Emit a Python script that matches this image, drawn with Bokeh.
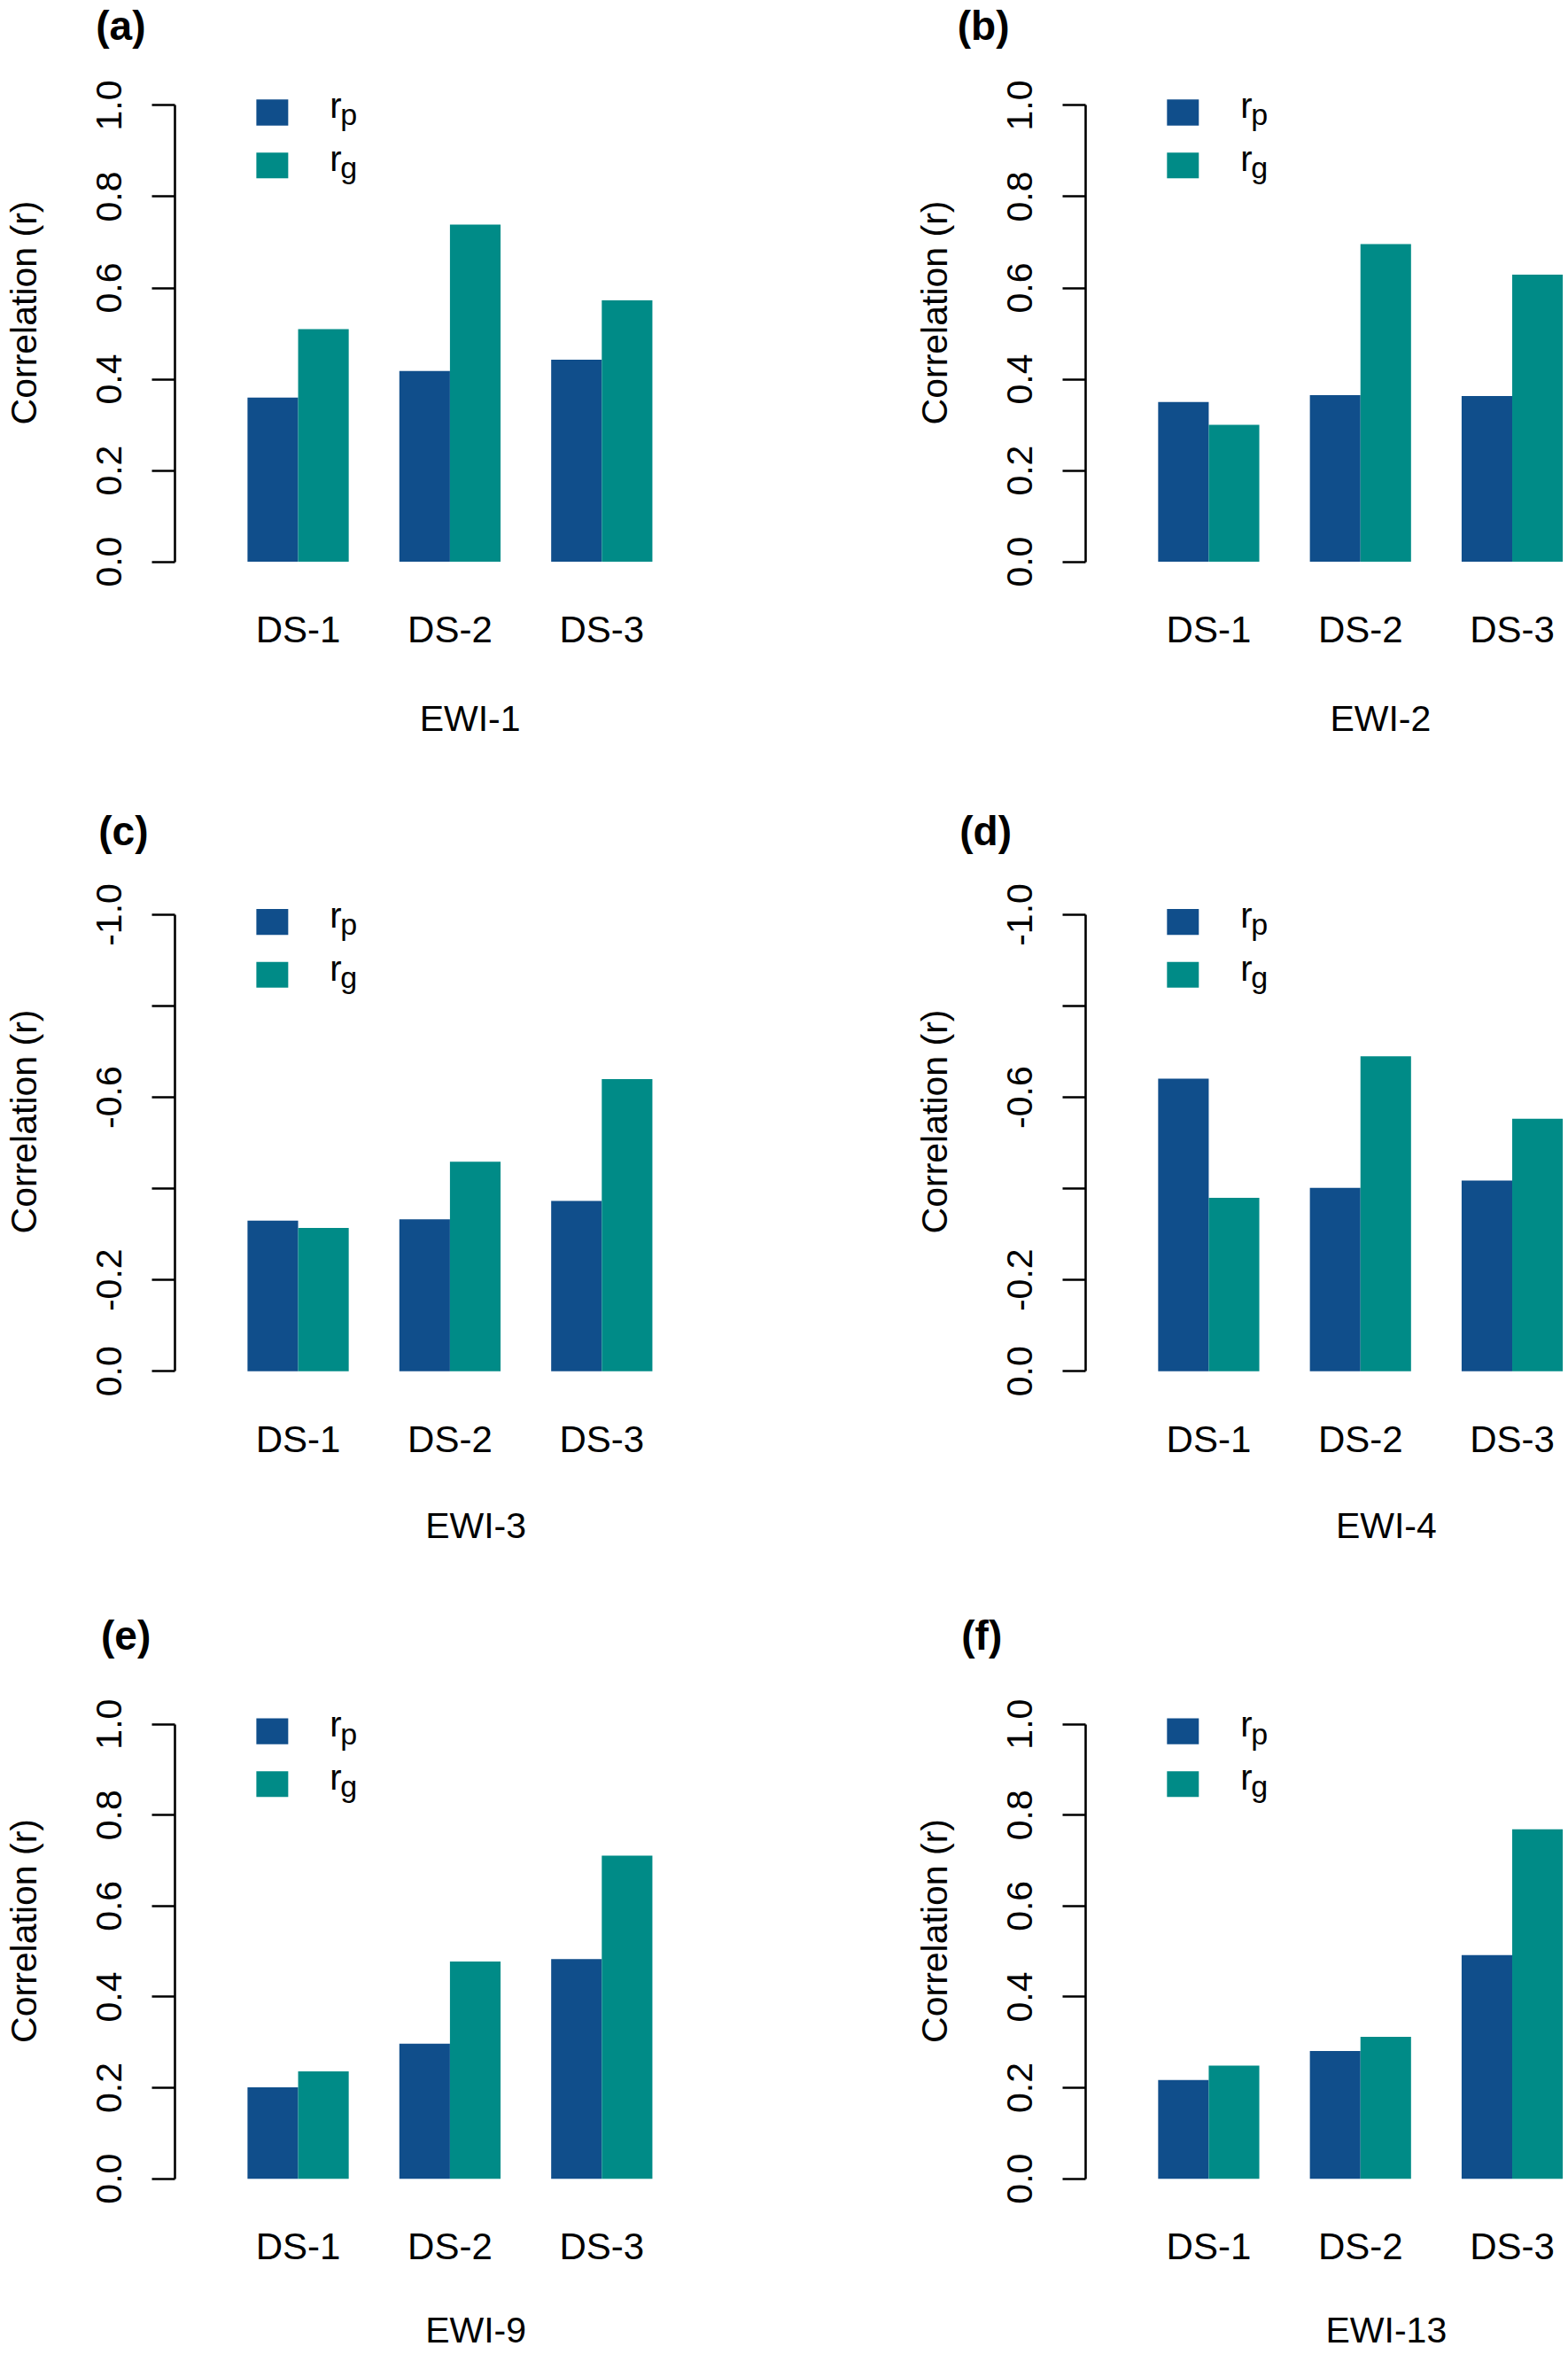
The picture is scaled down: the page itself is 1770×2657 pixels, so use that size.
from bokeh.plotting import figure
from bokeh.layouts import column, row
from bokeh.models import Range1d, FixedTicker, Label, ColumnDataSource, LinearAxis, Title
from bokeh.embed import file_html
from bokeh.resources import INLINE

# ---------------- data ----------------
categories = ["DS-1", "DS-2", "DS-3"]
panel_tags = ["(a)", "(b)", "(c)", "(d)", "(e)", "(f)"]
ewi_names = ["EWI-1", "EWI-2", "EWI-3", "EWI-4", "EWI-9", "EWI-13"]

rp_ewi1 = [0.360, 0.418, 0.443]
rg_ewi1 = [0.510, 0.739, 0.573]
rp_ewi2 = [0.350, 0.365, 0.363]
rg_ewi2 = [0.300, 0.696, 0.629]
rp_ewi3 = [-0.330, -0.333, -0.373]
rg_ewi3 = [-0.314, -0.459, -0.640]
rp_ewi4 = [-0.641, -0.402, -0.418]
rg_ewi4 = [-0.380, -0.690, -0.553]
rp_ewi9 = [0.201, 0.297, 0.483]
rg_ewi9 = [0.236, 0.478, 0.711]
rp_ewi13 = [0.217, 0.281, 0.492]
rg_ewi13 = [0.249, 0.312, 0.769]

rp_all = [rp_ewi1, rp_ewi2, rp_ewi3, rp_ewi4, rp_ewi9, rp_ewi13]
rg_all = [rg_ewi1, rg_ewi2, rg_ewi3, rg_ewi4, rg_ewi9, rg_ewi13]

tick_values = [0.0, 0.2, 0.4, 0.6, 0.8, 1.0]
series_main = ["r", "r"]
series_sub = ["p", "g"]

# ---------------- style / layout ----------------
RP_COLOR = "#104E8B"
RG_COLOR = "#008B87"
FONT = "Liberation Sans"
ASC, DESC = 0.905, 0.212

CELL_W = [1028, 740]
ROW_H = [880, 910, 865]
ROW_ZERO = [634.0, 667.5, 671.5]      # pixel of r = 0 inside a cell
ROW_FTOP = [54, 83, 81]               # frame top (= bottom of panel tag)
ROW_YLAB = [352.7, 385.6, 390.5]      # centre of the y-axis title
ROW_EWI_BASE = [822.0, 852.0, 853.0]  # baseline of EWI title
ROW_EWI_CX = [529.5, 536.0, 536.0]
DS_BELOW_ZERO = 90.5                  # baseline of DS labels under r = 0
TITLE_LEFT = [110, 54.5, 113, 57, 115.7, 59]

FRAME_L = 196
X0 = 220.8      # pixel of bar-unit 0 within a cell
UX = 57.2       # pixels per bar unit
UY = 515.5      # pixels per unit of r

DS_SIZE = 42
TXT_SIZE = 41
TAG_SIZE = 46
LEG_SIZE = 40
SUB_SIZE = 34
LABEL_SHIFT = 0.33  # label anchor correction (fraction of font size)


def make_panel(i):
    col = i % 2
    rw = i // 2
    cw, ch = CELL_W[col], ROW_H[rw]
    zero = ROW_ZERO[rw]
    ftop = ROW_FTOP[rw]
    fbot = 2 * ROW_YLAB[rw] - ftop
    tt = zero - UY  # top tick pixel
    rp, rg = rp_all[i], rg_all[i]
    sign = -1.0 if min(rp + rg) < 0 else 1.0
    right_border = 20 if col == 0 else 0
    fw = cw - FRAME_L - right_border

    def dx(px):
        return (px - X0) / UX

    def dy(py):
        return sign * (zero - py) / UY

    xs = dx(FRAME_L)
    xe = xs + fw / UX
    p = figure(width=cw, height=ch, output_backend="svg", toolbar_location=None,
               x_range=Range1d(xs, xe),
               y_range=Range1d(dy(fbot), dy(ftop)),
               min_border_left=FRAME_L, min_border_right=right_border,
               min_border_top=int(round(ftop)), min_border_bottom=int(round(ch - fbot)),
               background_fill_color="white", border_fill_color="white")
    p.outline_line_color = None
    p.xgrid.visible = False
    p.ygrid.visible = False

    # bars (R barplot layout: space 1 before each group, bars width 1)
    centers = [2 + 3 * k for k in range(len(categories))]
    src = ColumnDataSource(dict(
        xp=[c - 0.5 for c in centers], xg=[c + 0.5 for c in centers],
        rp=rp, rg=rg, cat=categories))
    p.vbar(x="xp", top="rp", bottom=0, width=1.0, source=src,
           fill_color=RP_COLOR, line_color=None)
    p.vbar(x="xg", top="rg", bottom=0, width=1.0, source=src,
           fill_color=RG_COLOR, line_color=None)

    # y axis
    ticks = [sign * t if t != 0 else 0.0 for t in tick_values]
    ya = p.yaxis[0]
    ya.ticker = FixedTicker(ticks=ticks)
    overrides = {}
    for t, v in zip(ticks, tick_values):
        lab = "%.1f" % t if t != 0 else "0.0"
        if sign < 0 and v in (0.4, 0.8):
            lab = ""
        overrides[t] = lab
    ya.major_label_overrides = overrides
    ya.bounds = (min(ticks), max(ticks))
    ya.axis_line_width = 2.6
    ya.axis_line_color = "black"
    ya.major_tick_line_width = 2.6
    ya.major_tick_line_color = "black"
    ya.major_tick_out = 26
    ya.major_tick_in = 0
    ya.minor_tick_out = 0
    ya.minor_tick_in = 0
    ya.major_label_orientation = "vertical"
    ya.major_label_standoff = 34
    ya.major_label_text_font = FONT
    ya.major_label_text_font_size = "%dpx" % TXT_SIZE
    ya.major_label_text_color = "black"
    ya.axis_label = "Correlation (r)"
    ya.axis_label_text_font = FONT
    ya.axis_label_text_font_size = "%dpx" % TXT_SIZE
    ya.axis_label_text_font_style = "normal"
    ya.axis_label_text_color = "black"
    ya.axis_label_standoff = 57

    # x axis (category labels only)
    ds_top = zero + DS_BELOW_ZERO - ASC * DS_SIZE
    ds_standoff = ds_top - fbot
    xa = p.xaxis[0]
    xa.ticker = FixedTicker(ticks=centers)
    xa.major_label_overrides = {c: n for c, n in zip(centers, categories)}
    xa.axis_line_color = None
    xa.major_tick_line_color = None
    xa.minor_tick_line_color = None
    xa.major_tick_out = 0
    xa.major_tick_in = 0
    xa.minor_tick_out = 0
    xa.minor_tick_in = 0
    xa.major_label_standoff = int(round(ds_standoff))
    xa.major_label_text_font = FONT
    xa.major_label_text_font_size = "%dpx" % DS_SIZE
    xa.major_label_text_color = "black"

    # x-axis title (EWI name), set as a second below axis so it is centred on the data
    ds_h = (ASC + DESC) * DS_SIZE
    ewi_top = ROW_EWI_BASE[rw] - ASC * TXT_SIZE
    ewi_standoff = ewi_top - (fbot + ds_standoff + ds_h)
    ewi_x = dx(ROW_EWI_CX[rw])
    xt = LinearAxis(ticker=FixedTicker(ticks=[ewi_x]),
                    major_label_overrides={ewi_x: ewi_names[i]},
                    axis_line_color=None, major_tick_line_color=None,
                    minor_tick_line_color=None, major_tick_out=0, major_tick_in=0,
                    minor_tick_out=0, minor_tick_in=0,
                    major_label_standoff=int(round(ewi_standoff)),
                    major_label_text_font=FONT,
                    major_label_text_font_size="%dpx" % TXT_SIZE,
                    major_label_text_color="black")
    p.add_layout(xt, "below")

    # legend
    rows_leg = [(tt - 6.6, tt + 22.7, tt + 13.4, tt + 21.7),
                (tt + 53.4, tt + 82.4, tt + 73.4, tt + 81.4)]
    for (top, bot, base_main, base_sub), colr, m, s in zip(
            rows_leg, [RP_COLOR, RG_COLOR], series_main, series_sub):
        p.quad(left=dx(288), right=dx(324), top=dy(top), bottom=dy(bot),
               fill_color=colr, line_color=None)
        p.add_layout(Label(x=dx(371), y=dy(base_main - LABEL_SHIFT * LEG_SIZE), text=m,
                           text_font=FONT, text_font_size="%dpx" % LEG_SIZE,
                           text_align="left", text_baseline="alphabetic",
                           text_color="black"))
        p.add_layout(Label(x=dx(383), y=dy(base_sub - LABEL_SHIFT * SUB_SIZE), text=s,
                           text_font=FONT, text_font_size="%dpx" % SUB_SIZE,
                           text_align="left", text_baseline="alphabetic",
                           text_color="black"))

    # panel tag
    p.add_layout(Title(text=panel_tags[i], align="left",
                       offset=TITLE_LEFT[i] - 3.2 - FRAME_L,
                       standoff=0, vertical_align="bottom",
                       text_font=FONT, text_font_size="%dpx" % TAG_SIZE,
                       text_font_style="bold", text_color="black"), "above")
    return p


panels = [make_panel(i) for i in range(6)]
layout = column(row(panels[0], panels[1]),
                row(panels[2], panels[3]),
                row(panels[4], panels[5]))

open("out.html", "w").write(file_html(layout, INLINE))
